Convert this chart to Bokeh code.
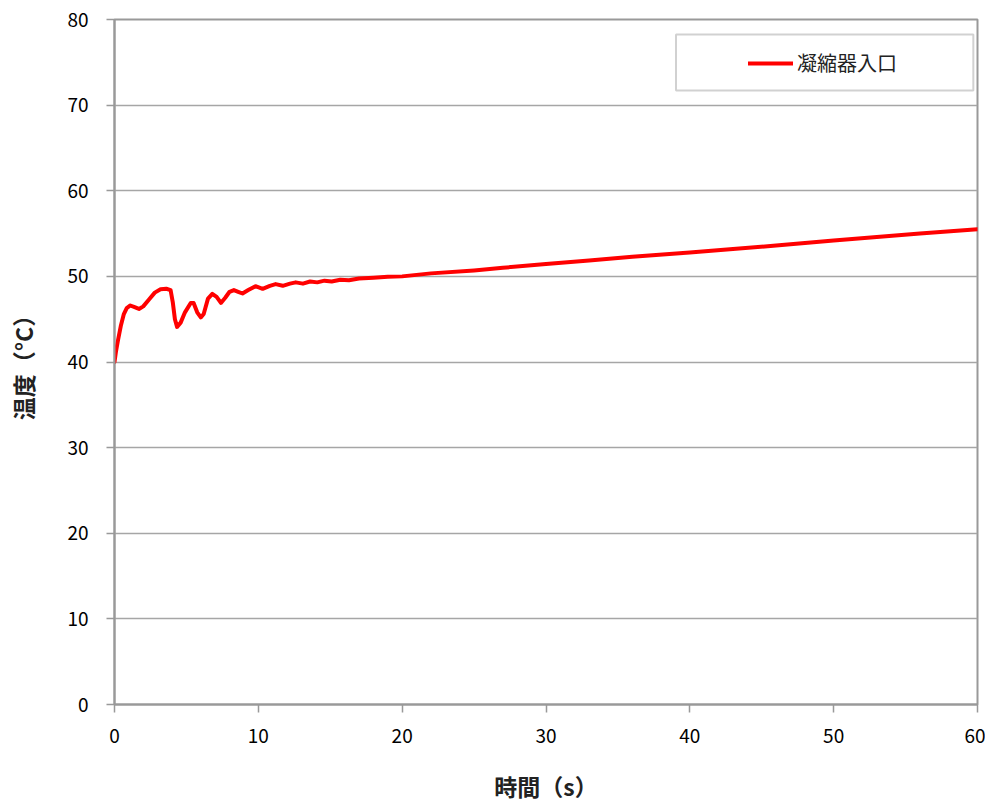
from bokeh.plotting import figure
from bokeh.models import Legend, LegendItem, BoxAnnotation, FixedTicker, Range1d
from bokeh.embed import file_html
from bokeh.resources import INLINE

# data
time_s = [0, 0.1, 0.25, 0.45, 0.65, 0.85, 1.1, 1.4, 1.7, 2.0, 2.4, 2.8, 3.2,
          3.6, 3.9, 4.05, 4.2, 4.35, 4.6, 4.9, 5.3, 5.5, 5.75, 6.0, 6.2, 6.5,
          6.8, 7.1, 7.4, 7.7, 8.0, 8.3, 8.6, 8.9, 9.3, 9.8, 10.3, 10.8, 11.2,
          11.7, 12.2, 12.6, 13.1, 13.6, 14.1, 14.6, 15.1, 15.7, 16.3, 17.0,
          18.0, 19.0, 20, 22, 25, 27, 30, 33, 36, 40, 43, 46, 50, 53, 56, 60]
temp_c = [40.0, 41.2, 42.6, 44.3, 45.6, 46.3, 46.6, 46.4, 46.2, 46.5, 47.3,
          48.1, 48.5, 48.55, 48.4, 47.0, 45.0, 44.1, 44.6, 45.8, 46.9, 46.9,
          45.8, 45.2, 45.6, 47.4, 47.95, 47.6, 46.9, 47.5, 48.2, 48.4, 48.2,
          48.0, 48.4, 48.85, 48.55, 48.9, 49.1, 48.9, 49.15, 49.3, 49.15, 49.4,
          49.3, 49.5, 49.4, 49.6, 49.55, 49.75, 49.85, 49.95, 50.0, 50.35,
          50.7, 51.0, 51.45, 51.85, 52.3, 52.8, 53.2, 53.6, 54.2, 54.6, 55.0,
          55.5]
series_name = "凝縮器入口"
x_ticks = [0, 10, 20, 30, 40, 50, 60]
y_ticks = [0, 10, 20, 30, 40, 50, 60, 70, 80]
x_label = "時間（s）"
y_label = "温度（°C）"

FONT = "Noto Sans CJK JP"
GRID = "#a6a6a6"
AXIS = "#999999"

p = figure(width=985, height=805, output_backend="svg", toolbar_location=None,
           x_range=Range1d(0, 60), y_range=Range1d(0, 80),
           min_border_left=114, min_border_right=8, min_border_top=19,
           min_border_bottom=101)
p.background_fill_color = "white"
p.border_fill_color = "white"
p.outline_line_color = AXIS
p.outline_line_width = 2

p.xaxis.ticker = FixedTicker(ticks=x_ticks)
p.yaxis.ticker = FixedTicker(ticks=y_ticks)
p.xgrid.visible = False
p.ygrid.grid_line_color = GRID
p.ygrid.grid_line_width = 1.5

for ax in (p.xaxis, p.yaxis):
    ax.axis_line_color = AXIS
    ax.axis_line_width = 2
    ax.major_tick_line_color = AXIS
    ax.major_tick_line_width = 1.5
    ax.major_tick_out = 8
    ax.major_tick_in = 0
    ax.minor_tick_line_color = None
    ax.major_label_text_font = FONT
    ax.major_label_text_font_size = "19px"
    ax.major_label_text_color = "black"
    ax.axis_label_text_font = FONT
    ax.axis_label_text_font_size = "23px"
    ax.axis_label_text_font_style = "bold"
    ax.axis_label_text_color = "#222222"

p.xaxis.major_label_standoff = 16
p.yaxis.major_label_standoff = 18
p.xaxis.axis_label = x_label
p.yaxis.axis_label = y_label
p.xaxis.axis_label_standoff = 23
p.yaxis.axis_label_standoff = 24

r = p.line(time_s, temp_c, line_color="#ff0000", line_width=4,
           line_join="round", line_cap="round")

# legend frame
box = BoxAnnotation(left=39.04, right=59.71, bottom=71.7, top=78.25,
                    fill_color="white", fill_alpha=1.0,
                    line_color="#666666", line_width=2)
p.add_layout(box)

legend = Legend(items=[LegendItem(label=series_name, renderers=[r])],
                location=(634, 627), padding=0, spacing=0,
                glyph_width=45, glyph_height=20, label_standoff=4,
                label_text_font=FONT, label_text_font_size="20px",
                label_text_color="#222222",
                border_line_alpha=0, background_fill_alpha=0)
p.add_layout(legend, "center")

open("out.html", "w").write(file_html(p, INLINE))
